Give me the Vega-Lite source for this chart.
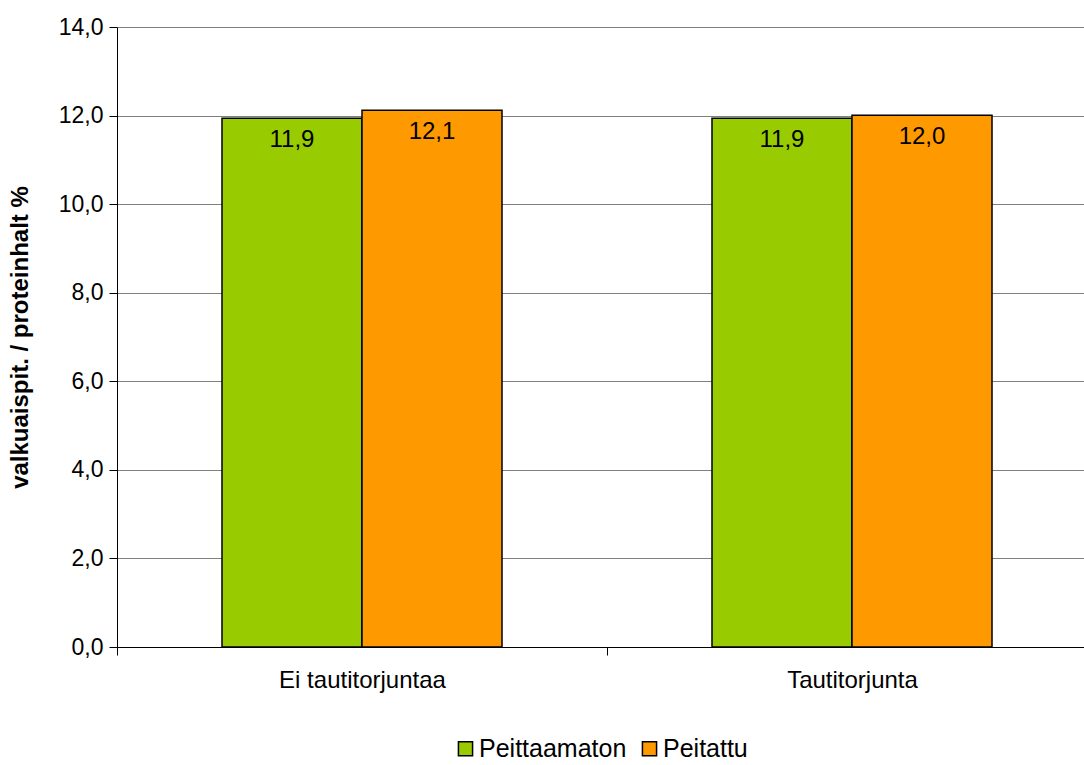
{
  "$schema": "https://vega.github.io/schema/vega-lite/v6.json",
  "autosize": "none",
  "width": 980,
  "height": 620,
  "padding": {"left": 117, "top": 27, "right": 0, "bottom": 118},
  "background": "white",
  "config": {
    "font": "Liberation Sans",
    "view": {"stroke": null},
    "locale": {"number": {"decimal": ",", "thousands": " ", "grouping": [3], "currency": ["", " €"]}},
    "axis": {"labelFont": "Liberation Sans", "titleFont": "Liberation Sans", "labelColor": "black", "titleColor": "black"}
  },
  "data": {
    "values": [
      {"group": "Ei tautitorjuntaa", "series": "Peittaamaton", "value": 11.94},
      {"group": "Ei tautitorjuntaa", "series": "Peitattu", "value": 12.12},
      {"group": "Tautitorjunta", "series": "Peittaamaton", "value": 11.94},
      {"group": "Tautitorjunta", "series": "Peitattu", "value": 12.01}
    ]
  },
  "encoding": {
    "x": {
      "field": "group", "type": "nominal", "sort": null,
      "scale": {"paddingInner": 0, "paddingOuter": 0},
      "axis": {
        "title": null, "labelAngle": 0, "labelFontSize": 24, "labelPadding": 13,
        "domainColor": "black", "domainWidth": 1, "tickColor": "black", "tickSize": 8,
        "tickBand": "extent", "grid": false
      }
    },
    "xOffset": {"field": "series", "type": "nominal", "sort": null, "scale": {"paddingInner": 0, "paddingOuter": 0.75}},
    "y": {
      "field": "value", "type": "quantitative",
      "scale": {"domain": [0, 14], "nice": false},
      "axis": {
        "title": "valkuaispit. / proteinhalt %", "titleFontSize": 24, "titleFontWeight": "bold", "titlePadding": 26,
        "values": [0, 2, 4, 6, 8, 10, 12, 14],
        "format": ".1f",
        "labelFontSize": 23, "labelPadding": 6,
        "domainColor": "black", "tickColor": "black", "tickSize": 8,
        "grid": true, "gridColor": "#808080", "gridWidth": 1
      }
    }
  },
  "layer": [
    {
      "mark": {"type": "bar", "stroke": "black", "strokeWidth": 1.5},
      "encoding": {
        "color": {
          "field": "series", "type": "nominal", "sort": null,
          "scale": {"domain": ["Peittaamaton", "Peitattu"], "range": ["#99CC00", "#FF9900"]},
          "legend": {
            "title": null, "orient": "none", "direction": "horizontal",
            "legendX": 336, "legendY": 709,
            "symbolType": "square", "symbolSize": 200, "symbolStrokeColor": "black", "symbolStrokeWidth": 1.5,
            "labelFontSize": 25, "labelColor": "black", "labelOffset": 1, "columnPadding": 10
          }
        }
      }
    },
    {
      "mark": {"type": "text", "baseline": "middle", "dy": 22, "fontSize": 24, "color": "black"},
      "encoding": {
        "text": {"field": "value", "type": "quantitative", "format": ".1f"}
      }
    }
  ]
}
